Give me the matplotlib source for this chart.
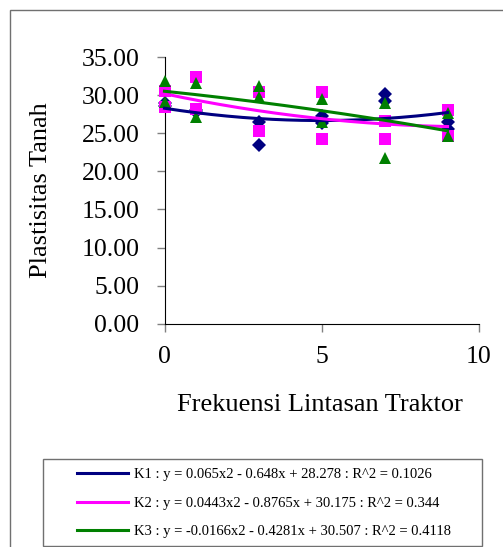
import numpy as np
import matplotlib
matplotlib.use("Agg")
import matplotlib.pyplot as plt
from matplotlib.patches import Rectangle
from matplotlib.lines import Line2D

plt.rcParams['font.family'] = ['Liberation Serif', 'DejaVu Serif']

# lintasan traktor (x) dan plastisitas tanah per seri
x_vals = [0, 0, 1, 1, 3, 3, 5, 5, 7, 7, 9, 9]
k1_vals = [29.0, 28.6, 28.0, 27.8, 26.5, 23.4, 27.2, 26.3, 30.2, 29.2, 26.5, 25.6]
k2_vals = [30.6, 28.4, 32.4, 28.2, 30.4, 25.3, 30.4, 24.2, 26.6, 24.3, 28.1, 24.6]
k3_vals = [31.8, 29.1, 31.6, 27.1, 31.15, 29.7, 29.5, 26.5, 28.9, 21.8, 27.65, 24.6]

# koefisien trendline polinomial (a, b, c) untuk y = a x^2 + b x + c
k1_coef = [0.065, -0.648, 28.278]
k2_coef = [0.0443, -0.8765, 30.175]
k3_coef = [-0.0166, -0.4281, 30.507]

labels = [
    "K1 : y = 0.065x2 - 0.648x + 28.278 : R^2 = 0.1026",
    "K2 : y = 0.0443x2 - 0.8765x + 30.175 : R^2 = 0.344",
    "K3 : y = -0.0166x2 - 0.4281x + 30.507 : R^2 = 0.4118",
]
y_ticks = [0, 5, 10, 15, 20, 25, 30, 35]
x_ticks = [0, 5, 10]

colors = ['#000080', '#FF00FF', '#008000']
markers = ['D', 's', '^']
sizes = [7, 8.5, 9]

W, H = 503, 547
fig = plt.figure(figsize=(W / 100, H / 100), dpi=100)
ax = fig.add_axes([164.5 / W, 1 - 323.7 / H, (479 - 164.5) / W, (323.7 - 57) / H])

series = [k1_vals, k2_vals, k3_vals]
coefs = [k1_coef, k2_coef, k3_coef]
for vals, c, m, s in zip(series, colors, markers, sizes):
    ax.plot(x_vals, vals, linestyle='none', marker=m, color=c, markersize=s,
            markeredgewidth=0, zorder=3)

xs = np.linspace(0, 9, 200)
for coef, c in zip(coefs, colors):
    ax.plot(xs, np.polyval(coef, xs), color=c, linewidth=2.2, zorder=4)

ax.set_xlim(0, 10)
ax.set_ylim(0, 35)
ax.set_xticks(x_ticks)
ax.set_yticks(y_ticks)
ax.set_yticklabels([f"{v:.2f}" for v in y_ticks])
ax.spines['top'].set_visible(False)
ax.spines['right'].set_visible(False)
ax.tick_params(axis='both', direction='out', length=6, width=1, color='#808080',
               labelsize=18.5)
ax.tick_params(axis='y', pad=12)
ax.tick_params(axis='x', pad=10)
for line in ax.lines:
    line.set_clip_on(False)

fig.text(41 / W, 1 - 190 / H, "Plastisitas Tanah", rotation=90, ha='center',
         va='center', fontsize=19)
fig.text(320 / W, 1 - 405 / H, "Frekuensi Lintasan Traktor", ha='center',
         va='center', fontsize=19)

# bingkai luar
fig.patches.append(Rectangle((10 / W, -0.1), 1.2, 1 - 10 / H + 0.1,
                             transform=fig.transFigure, fill=False,
                             edgecolor='#707070', linewidth=1))
# kotak legenda
fig.patches.append(Rectangle((43 / W, 1 - 546 / H), (482 - 43) / W, (546 - 459) / H,
                             transform=fig.transFigure, fill=False,
                             edgecolor='#707070', linewidth=1))

handles = [Line2D([], [], color=c, linewidth=2.2) for c in colors]
fig.legend(handles, labels, loc='upper left', frameon=False,
           bbox_to_anchor=(74 / W, 1 - 465 / H), fontsize=10.5,
           handlelength=3.5, handletextpad=0.4, labelspacing=1.05,
           borderpad=0.2, borderaxespad=0)

fig.savefig("out.png", dpi=100)
